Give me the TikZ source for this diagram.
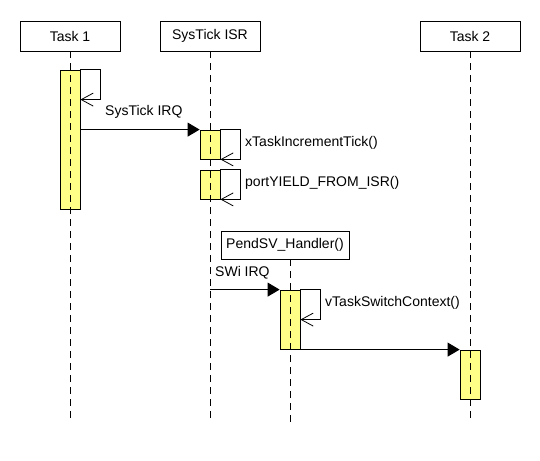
\documentclass[tikz,border=0pt]{standalone}
\usepackage{fontspec}
\setmainfont{Liberation Sans}
\usetikzlibrary{arrows.meta,calc}
\definecolor{actfill}{RGB}{255,255,136}
\begin{document}
\begin{tikzpicture}[x=1pt,y=-1pt,
  every node/.style={font=\fontsize{14}{16}\selectfont},
  header/.style={draw=black,line width=0.8pt,fill=white,minimum width=100pt,minimum height=30pt,inner sep=0pt},
  actbar/.style={draw=black,line width=0.8pt,fill=actfill,minimum width=20pt,inner sep=0pt},
  life/.style={line width=0.8pt,dash pattern=on 7pt off 5pt},
  msg/.style={line width=0.8pt,-{Triangle[length=12pt,width=14pt]}},
  selfloop/.style={line width=0.8pt,-{Straight Barb[length=12pt,width=13pt,line width=0.8pt]}},
  lbl/.style={anchor=west,inner sep=0pt}]
\useasboundingbox (0,0) rectangle (540,460);
\fill[white] (0,0) rectangle (540,460);

% participants
\node[header] (t1) at (70,36) {Task 1};
\node[header] (st) at (210,36) {SysTick ISR};
\node[header] (t2) at (470,36) {Task 2};
\node[header,minimum width=128pt,minimum height=28pt] (pv) at (285,245) {PendSV\_Handler()};

% activation bars
\node[actbar,minimum height=139pt] (b1) at (70,139.5) {};
\node[actbar,minimum height=29pt] (b2) at (210,144.5) {};
\node[actbar,minimum height=29pt] (b3) at (210,184.5) {};
\node[actbar,minimum height=59pt] (b4) at (290,319.5) {};
\node[actbar,minimum height=49pt] (b5) at (470,374.5) {};

% lifelines
\coordinate (bottom) at (0,422);
\coordinate (pvl) at ($(pv.south)+(5,0)$);
\draw[life] (t1.south) -- (t1.south |- bottom);
\draw[life] (st.south) -- (st.south |- bottom);
\draw[life] (t2.south) -- (t2.south |- bottom);
\draw[life] (pvl) -- (pvl |- bottom);

% self calls
\draw[selfloop] (b1.north east) -- ++(20,0) |- ($(b1.north east)+(0,30)$);
\draw[selfloop] (b2.north east) -- ++(20,0) |- (b2.south east);
\draw[selfloop] (b3.north east) -- ++(20,0) |- (b3.south east);
\draw[selfloop] (b4.north east) -- ++(20,0) |- ($(b4.north east)+(0,30)$);

% messages
\draw[msg] (b1.east |- b2.north west) -- (b2.north west);
\draw[msg] (st.south |- b4.north west) -- (b4.north west);
\draw[msg] (b4.south east) -- (b5.north west);

% labels
\node[lbl] (l1) at (105,112) {SysTick IRQ};
\node[lbl] (l2) at (245,143) {xTaskIncrementTick()};
\node[lbl] (l3) at (245,183) {portYIELD\_FROM\_ISR()};
\node[lbl] (l4) at (215,273) {SWi IRQ};
\node[lbl] (l5) at (325,303) {vTaskSwitchContext()};
\end{tikzpicture}
\end{document}
